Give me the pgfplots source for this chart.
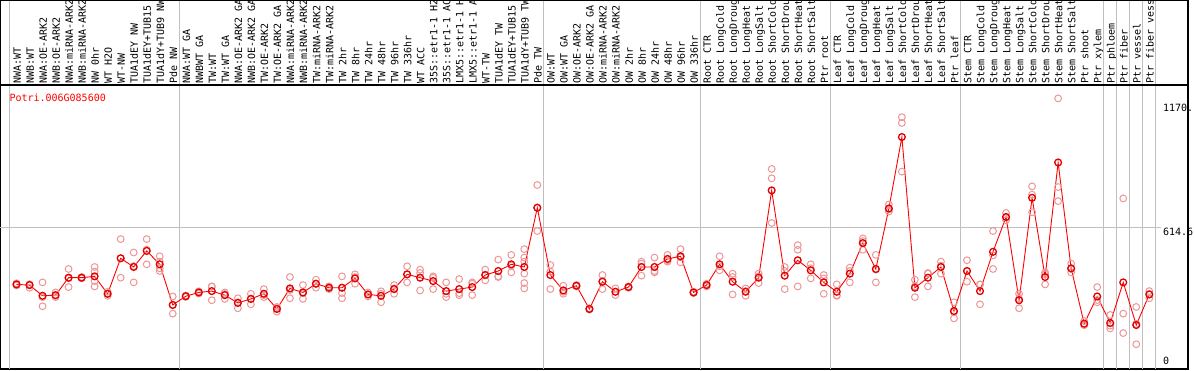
\documentclass[border=0pt]{standalone}
\usepackage{pgfplots}
\pgfplotsset{compat=1.18}
\usepackage{fontspec}
\setmainfont{DejaVu Sans Mono}
\setmonofont{DejaVu Sans Mono}
\definecolor{repc}{RGB}{236,150,150}
\definecolor{meanc}{RGB}{225,0,0}
\definecolor{gridc}{RGB}{192,192,192}
\newcommand{\lab}{\fontsize{10}{10}\selectfont}

\pgfplotstableread{
x y
0 361
0 356
0 366
1 358
1 346
1 362
2 370
2 304
2 263
3 325
3 304
3 310
4 430
4 388
4 349
5 391
5 388
5 394
6 439
6 418
6 376
6 352
7 310
7 319
7 328
8 564
8 391
8 478
9 504
9 370
9 443
10 564
10 451
10 517
11 487
11 463
11 421
11 433
12 307
12 230
12 269
13 308
13 305
13 311
14 325
14 320
14 330
15 352
15 290
15 351
16 325
16 296
16 318
17 299
17 254
17 281
18 319
18 272
18 297
19 340
19 304
19 313
20 260
20 239
20 254
21 394
21 299
21 336
22 358
22 296
22 321
23 382
23 346
23 364
24 340
24 346
24 352
25 397
25 346
25 322
25 299
26 406
26 364
26 394
27 325
27 316
27 307
28 319
28 281
28 330
29 358
29 319
29 343
30 442
30 370
30 406
31 427
31 412
31 334
32 397
32 340
32 391
33 370
33 304
33 319
34 385
34 313
34 322
35 370
35 313
35 364
36 427
36 379
36 403
37 472
37 394
37 397
38 493
38 415
38 445
39 519
39 481
39 463
39 409
39 367
39 343
40 806
40 600
40 706
41 448
41 418
41 340
42 355
42 319
42 328
43 355
43 352
43 358
44 251
44 248
44 254
45 403
45 340
45 376
46 313
46 328
46 343
47 349
47 346
47 352
48 463
48 400
48 454
49 481
49 415
49 421
50 493
50 463
50 469
51 519
51 460
51 482
52 325
52 322
52 328
53 358
53 364
53 352
54 487
54 424
54 442
55 409
55 316
55 394
56 343
56 310
56 331
57 409
57 367
57 397
58 878
58 836
58 636
59 439
59 340
59 421
60 537
60 516
60 352
61 451
61 388
61 433
62 403
62 319
62 388
63 361
63 310
63 313
64 436
64 370
64 421
65 567
65 516
65 555
66 493
66 370
66 427
67 719
67 687
67 697
68 1110
68 1084
68 866
69 382
69 304
69 352
70 409
70 352
70 412
71 463
71 409
71 445
72 281
72 209
72 236
73 469
73 373
73 421
74 361
74 272
74 360
75 600
75 430
75 491
76 681
76 648
76 660
77 319
77 254
77 297
78 800
78 684
78 763
79 415
79 361
79 406
80 1194
80 797
80 734
81 454
81 415
81 430
82 197
82 179
82 179
83 349
83 281
83 291
84 224
84 164
84 176
85 746
85 230
85 143
86 260
86 93
86 184
87 331
87 299
87 318
}\reps

\pgfplotstableread{
x y
0 361
1 358
2 310
3 313
4 391
5 391
6 397
7 319
8 478
9 439
10 511
11 451
12 269
13 308
14 325
15 331
16 313
17 278
18 296
19 319
20 251
21 343
22 325
23 364
24 346
25 346
26 388
27 316
28 310
29 340
30 406
31 391
32 376
33 331
34 340
35 349
36 403
37 421
38 451
39 439
40 704
41 403
42 334
43 355
44 251
45 373
46 328
47 349
48 439
49 439
50 475
51 487
52 325
53 358
54 451
55 373
56 328
57 391
58 782
59 400
60 469
61 424
62 370
63 328
64 409
65 546
66 430
67 701
68 1021
69 346
70 391
71 439
72 242
73 421
74 331
75 507
76 663
77 290
78 749
79 394
80 907
81 433
82 185
83 307
84 188
85 370
86 179
87 316
}\means

\begin{document}
\begin{tikzpicture}
\path[use as bounding box] (0pt,0pt) rectangle (1194pt,370pt);
\clip (0pt,0pt) rectangle (1194pt,370pt);
\begin{axis}[
  at={(0pt,1pt)}, anchor=south west,
  scale only axis, width=1188pt, height=284pt,
  xmin=-1.267, xmax=89.97, ymin=-17.9, ymax=1254,
  axis line style={line width=1.6pt},
  clip=false,
  xtick={0.33,1.33,...,87.33},
  xticklabels={NWA:WT,NWB:WT,NWA:OE-ARK2,NWB:OE-ARK2,NWA:miRNA-ARK2,NWB:miRNA-ARK2,NW 0hr,WT H2O,WT-NW,TUA1dEY NW,TUA1dEY+TUB15 NW,TUA1dY+TUB9 NW,Pde NW,
    NWA:WT GA,NWBWT GA,TW:WT,TW:WT GA,NWA:OE-ARK2 GA,NWB:OE-ARK2 GA,TW:OE-ARK2,TW:OE-ARK2 GA,NWA:miRNA-ARK2 GA,NWB:miRNA-ARK2 GA,TW:miRNA-ARK2,TW:miRNA-ARK2 GA,TW 2hr,TW 8hr,TW 24hr,TW 48hr,TW 96hr,TW 336hr,WT ACC,35S::etr1-1 H2O,35S::etr1-1 ACC,LMX5::etr1-1 H2O,LMX5::etr1-1 ACC,WT-TW,TUA1dEY TW,TUA1dEY+TUB15 TW,TUA1dY+TUB9 TW,Pde TW,
    OW:WT,OW:WT GA,OW:OE-ARK2,OW:OE-ARK2 GA,OW:miRNA-ARK2,OW:miRNA-ARK2 GA,OW 2hr,OW 8hr,OW 24hr,OW 48hr,OW 96hr,OW 336hr,
    Root CTR,Root LongCold,Root LongDrought,Root LongHeat,Root LongSalt,Root ShortCold,Root ShortDrought,Root ShortHeat,Root ShortSalt,Ptr root,
    Leaf CTR,Leaf LongCold,Leaf LongDrought,Leaf LongHeat,Leaf LongSalt,Leaf ShortCold,Leaf ShortDrought,Leaf ShortHeat,Leaf ShortSalt,Ptr leaf,
    Stem CTR,Stem LongCold,Stem LongDrought,Stem LongHeat,Stem LongSalt,Stem ShortCold,Stem ShortDrought,Stem ShortHeat,Stem ShortSalt,Ptr shoot,Ptr xylem,Ptr phloem,Ptr fiber,Ptr vessel,Ptr fiber vessel},
  xticklabel pos=upper,
  xticklabel shift=-1.5pt,
  x tick label style={rotate=90, anchor=base west, font=\lab, inner sep=2.5pt},
  major tick length=0pt,
  ytick=\empty,
]
\pgfplotsinvokeforeach{-0.5,12.5,40.5,52.5,62.5,72.5,83.5,84.5,85.5,86.5,87.5}{
  \draw[gridc, line width=1pt] (axis cs:#1,-17.9) -- (axis cs:#1,1700);
}
\draw[gridc, line width=1pt] (axis cs:-1.267,614.6) -- (axis cs:87.9,614.6);
\addplot[only marks, mark=o, mark size=3.4pt, repc, mark options={line width=1pt}] table {\reps};
\addplot[red, line width=0.9pt, mark=o, mark size=3.4pt, mark options={draw=meanc, line width=1.3pt}] table {\means};
\node[anchor=north west, font=\lab, inner sep=0pt] at (axis cs:88.05,1170) {1170.};
\node[anchor=north west, font=\lab, inner sep=0pt] at (axis cs:88.05,614.6) {614.6};
\node[anchor=south west, font=\lab, inner sep=0pt] at (axis cs:88.05,0) {0};
\end{axis}
\draw[line width=1.6pt] (0pt,285pt) rectangle (1188pt,370pt);
\node[anchor=west, text=red, font=\lab, inner sep=0pt] at (9.3pt,272.7pt) {Potri.006G085600};
\end{tikzpicture}
\end{document}
